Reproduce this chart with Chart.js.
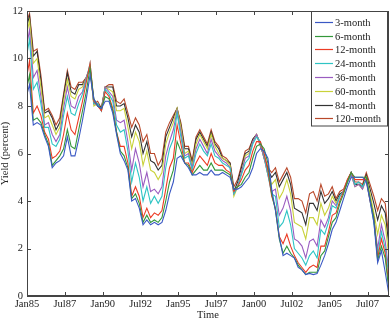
<!DOCTYPE html>
<html><head><meta charset="utf-8">
<script src="https://cdn.jsdelivr.net/npm/chart.js@4/dist/chart.umd.min.js"></script>
<style>html,body{margin:0;padding:0;background:#fff;}#wrap{width:392px;height:324px;}</style>
</head><body><div id="wrap"><canvas id="c" width="392" height="324"></canvas></div>
<script>
// Month offsets from Jan 1985
const months = [0, 2, 5, 8, 11, 14, 17, 20, 23, 26,
  29, 32, 35, 38, 41, 44, 47, 50, 53, 56,
  59, 62, 65, 68, 71, 74, 77, 80, 83, 86,
  89, 92, 95, 98, 101, 104, 107, 110, 113, 116,
  119, 122, 125, 128, 131, 134, 137, 140, 143, 146,
  149, 152, 155, 158, 161, 164, 167, 170, 173, 176,
  179, 182, 185, 188, 191, 194, 197, 200, 203, 206,
  209, 212, 215, 218, 221, 224, 227, 230, 233, 236,
  239, 242, 245, 248, 251, 254, 257, 260, 263, 266,
  269, 272, 275, 278, 281, 284, 287];

const tickMonths = [0, 30, 60, 90, 120, 150, 180, 210, 240, 270];
const tickLabels = ['Jan85','Jul87','Jan90','Jul92','Jan95','Jul97','Jan00','Jul02','Jan05','Jul07'];
const yTicks = [0, 2, 4, 6, 8, 10, 12];

const seriesNames = ['3-month','6-month','12-month','24-month','36-month','60-month','84-month','120-month'];

const y3 = [8.5, 8.9, 7.2, 7.3, 7.2, 6.7, 6.3, 5.4, 5.6, 5.7,
  5.9, 6.7, 5.9, 5.9, 6.6, 7.4, 8.3, 9.3, 8.3, 8.0,
  7.9, 8.2, 8.2, 7.7, 6.8, 6.0, 5.7, 5.3, 4.0, 4.1,
  3.7, 3.0, 3.2, 3.0, 3.1, 3.0, 3.1, 3.6, 4.3, 4.8,
  5.8, 5.9, 5.6, 5.4, 5.1, 5.1, 5.2, 5.1, 5.1, 5.3,
  5.1, 5.1, 5.2, 5.1, 5.0, 4.5, 4.5, 4.6, 4.8, 5.0,
  5.4, 6.0, 6.2, 6.1, 5.8, 4.5, 3.6, 2.5, 1.7, 1.8,
  1.7, 1.6, 1.2, 1.1, 0.9, 0.95, 0.9, 0.95, 1.3, 1.7,
  2.2, 2.8, 3.1, 3.6, 4.1, 4.6, 5.0, 5.0, 5.0, 5.0,
  4.8, 4.0, 3.1, 1.4, 1.9, 1.0, 0.05];
const y6 = [8.8, 9.3, 7.4, 7.5, 7.3, 6.8, 6.4, 5.5, 5.7, 5.9,
  6.2, 7.0, 6.3, 6.2, 7.0, 7.8, 8.6, 9.6, 8.3, 8.0,
  7.9, 8.4, 8.3, 7.8, 6.9, 6.1, 5.9, 5.4, 4.1, 4.3,
  3.9, 3.1, 3.4, 3.1, 3.2, 3.1, 3.3, 4.0, 4.8, 5.3,
  6.5, 6.1, 5.6, 5.5, 5.1, 5.3, 5.5, 5.3, 5.3, 5.6,
  5.3, 5.3, 5.3, 5.2, 5.1, 4.5, 4.6, 4.7, 5.0, 5.2,
  5.8, 6.3, 6.4, 6.2, 5.6, 4.3, 3.6, 2.4, 1.8, 2.1,
  1.8, 1.6, 1.3, 1.1, 0.9, 1.0, 1.0, 1.0, 1.7, 1.9,
  2.5, 3.1, 3.3, 3.9, 4.3, 4.8, 5.2, 5.0, 5.0, 5.0,
  5.0, 4.1, 3.3, 1.5, 2.1, 1.6, 0.2];
const y12 = [9.3, 9.9, 7.7, 8.0, 7.6, 6.9, 6.6, 5.8, 5.9, 6.1,
  6.8, 7.7, 7.0, 6.8, 7.5, 8.2, 9.0, 9.8, 8.2, 8.0,
  7.8, 8.6, 8.4, 7.9, 6.9, 6.3, 6.3, 5.6, 4.2, 4.6,
  4.2, 3.3, 3.7, 3.3, 3.5, 3.4, 3.6, 4.5, 5.4, 5.8,
  7.2, 6.4, 5.6, 5.6, 5.2, 5.6, 5.9, 5.7, 5.5, 6.0,
  5.6, 5.5, 5.5, 5.3, 5.2, 4.4, 4.6, 4.9, 5.3, 5.5,
  6.1, 6.5, 6.5, 6.0, 5.3, 4.2, 3.7, 2.5, 2.2, 2.6,
  2.1, 1.7, 1.4, 1.2, 1.0, 1.2, 1.3, 1.2, 2.1, 2.1,
  2.7, 3.4, 3.5, 4.0, 4.4, 4.9, 5.2, 4.9, 4.9, 4.9,
  4.9, 4.0, 3.3, 1.6, 2.4, 1.8, 0.4];
const y24 = [10.2, 10.8, 8.7, 9.0, 8.1, 7.1, 7.1, 6.4, 6.3, 6.6,
  7.6, 8.4, 7.7, 7.6, 8.1, 8.5, 9.1, 9.8, 8.1, 8.1,
  7.8, 8.7, 8.5, 8.2, 7.2, 6.9, 7.0, 6.1, 4.8, 5.6,
  5.0, 4.0, 4.6, 3.9, 4.2, 3.9, 4.2, 5.4, 6.2, 6.6,
  7.7, 6.7, 5.8, 5.9, 5.3, 6.0, 6.4, 6.1, 5.9, 6.4,
  5.9, 5.8, 5.6, 5.5, 5.4, 4.3, 4.6, 5.1, 5.6, 5.8,
  6.4, 6.7, 6.5, 5.9, 5.1, 4.3, 4.2, 2.9, 3.1, 3.6,
  3.0, 2.0, 1.8, 1.6, 1.3, 1.7, 1.9, 1.6, 2.8, 2.6,
  3.1, 3.8, 3.7, 4.2, 4.4, 4.8, 5.2, 4.7, 4.8, 4.6,
  4.9, 4.0, 3.1, 1.7, 2.7, 2.0, 0.8];
const y36 = [10.6, 11.2, 9.2, 9.5, 8.4, 7.2, 7.3, 6.8, 6.5, 6.8,
  7.9, 8.8, 8.0, 7.9, 8.4, 8.6, 9.2, 9.7, 8.1, 8.1,
  7.8, 8.8, 8.6, 8.4, 7.4, 7.3, 7.4, 6.5, 5.3, 6.2,
  5.6, 4.6, 5.2, 4.4, 4.5, 4.3, 4.6, 5.9, 6.5, 7.0,
  7.8, 6.9, 5.9, 6.0, 5.4, 6.2, 6.6, 6.3, 6.0, 6.6,
  6.1, 5.9, 5.7, 5.6, 5.4, 4.3, 4.6, 5.2, 5.8, 5.9,
  6.5, 6.8, 6.4, 5.8, 5.1, 4.4, 4.5, 3.4, 3.7, 4.2,
  3.6, 2.4, 2.3, 2.1, 1.6, 2.3, 2.4, 2.1, 3.2, 2.9,
  3.3, 4.0, 3.8, 4.2, 4.4, 4.8, 5.1, 4.6, 4.7, 4.5,
  4.9, 4.1, 3.2, 2.0, 3.0, 2.3, 1.0];
const y60 = [11.1, 11.6, 9.8, 10.0, 8.8, 7.5, 7.6, 7.2, 6.8, 7.1,
  8.2, 9.1, 8.4, 8.3, 8.7, 8.8, 9.2, 9.6, 8.0, 8.1,
  7.8, 8.8, 8.7, 8.6, 7.8, 7.8, 7.9, 7.1, 6.2, 6.9,
  6.5, 5.5, 6.1, 5.3, 5.2, 4.9, 5.2, 6.4, 6.9, 7.3,
  7.9, 7.1, 6.0, 6.1, 5.5, 6.4, 6.8, 6.5, 6.2, 6.8,
  6.3, 6.0, 5.8, 5.7, 5.5, 4.2, 4.6, 5.2, 5.9, 6.0,
  6.5, 6.8, 6.4, 5.8, 5.1, 4.7, 4.9, 4.1, 4.4, 4.9,
  4.3, 3.1, 3.0, 2.9, 2.4, 3.3, 3.3, 3.0, 3.9, 3.4,
  3.7, 4.2, 3.9, 4.2, 4.4, 4.8, 5.1, 4.6, 4.7, 4.5,
  5.0, 4.3, 3.5, 2.6, 3.4, 3.0, 1.6];
const y84 = [11.4, 11.8, 10.1, 10.3, 9.1, 7.7, 7.8, 7.5, 7.0, 7.3,
  8.4, 9.4, 8.6, 8.5, 8.9, 8.9, 9.2, 9.6, 8.1, 8.1,
  7.9, 8.8, 8.8, 8.8, 8.0, 8.0, 8.1, 7.5, 6.7, 7.2,
  6.9, 6.0, 6.5, 5.7, 5.6, 5.3, 5.5, 6.7, 7.1, 7.5,
  7.9, 7.2, 6.2, 6.2, 5.6, 6.6, 6.9, 6.6, 6.3, 6.9,
  6.4, 6.2, 5.8, 5.7, 5.6, 4.4, 4.8, 5.4, 6.0, 6.1,
  6.6, 6.8, 6.4, 5.8, 5.3, 5.0, 5.2, 4.6, 4.9, 5.2,
  4.7, 3.7, 3.6, 3.5, 3.0, 3.9, 3.9, 3.6, 4.4, 3.9,
  4.1, 4.4, 4.0, 4.3, 4.4, 4.8, 5.2, 4.7, 4.7, 4.6,
  5.1, 4.5, 3.9, 3.2, 3.8, 3.5, 2.1];
const y120 = [11.6, 11.9, 10.3, 10.4, 9.3, 7.8, 7.9, 7.6, 7.2, 7.5,
  8.5, 9.5, 8.8, 8.7, 9.0, 9.0, 9.2, 9.6, 8.1, 8.2,
  7.9, 8.8, 8.9, 8.9, 8.2, 8.1, 8.3, 7.7, 7.1, 7.5,
  7.2, 6.5, 6.8, 6.0, 6.0, 5.5, 5.8, 6.9, 7.3, 7.6,
  7.9, 7.3, 6.3, 6.3, 5.7, 6.7, 7.0, 6.7, 6.4, 7.0,
  6.5, 6.3, 5.9, 5.8, 5.6, 4.6, 4.9, 5.5, 6.1, 6.2,
  6.6, 6.8, 6.3, 5.9, 5.4, 5.2, 5.4, 4.8, 5.1, 5.4,
  5.0, 4.1, 4.1, 4.0, 3.5, 4.3, 4.4, 4.0, 4.7, 4.2,
  4.3, 4.6, 4.1, 4.4, 4.5, 4.9, 5.2, 4.8, 4.8, 4.7,
  5.2, 4.7, 4.2, 3.6, 4.1, 3.9, 2.4];

const seriesValues = [y3, y6, y12, y24, y36, y60, y84, y120];
const colors = ['#3a58c4', '#33973a', '#ec3b24', '#2ec4c4', '#9a5cc0', '#c9d23a', '#333333', '#b9482a'];

const FONT = 'Liberation Serif, Times New Roman, serif';

const frame = {
  id: 'frame',
  afterDraw(chart) {
    const c = chart.ctx, a = chart.chartArea;
    const xs = chart.scales.x, ys = chart.scales.y;
    c.save();
    c.strokeStyle = '#444';
    c.lineWidth = 1;
    c.strokeRect(Math.round(a.left) + 0.5, Math.round(a.top) + 0.5, Math.round(a.right - a.left) - 1, Math.round(a.bottom - a.top) - 1);
    c.beginPath();
    tickMonths.forEach(m => {
      const x = Math.round(xs.getPixelForValue(m)) + 0.5;
      c.moveTo(x, a.bottom); c.lineTo(x, a.bottom - 4);
      c.moveTo(x, a.top); c.lineTo(x, a.top + 4);
    });
    yTicks.forEach(v => {
      const y = Math.round(ys.getPixelForValue(v)) + 0.5;
      c.moveTo(a.left, y); c.lineTo(a.left + 4, y);
      c.moveTo(a.right, y); c.lineTo(a.right - 4, y);
    });
    c.stroke();
    // legend
    const L = 311.5, T = 11.5, W = 76, H = 114.5;
    c.fillStyle = '#fff';
    c.fillRect(L, T, W, H);
    c.strokeStyle = '#444';
    c.strokeRect(L, T, W, H);
    c.font = '10.5px ' + FONT;
    c.textBaseline = 'middle';
    c.textAlign = 'left';
    chart.data.datasets.forEach((ds, i) => {
      const y = Math.round(T + 10.2 + i * 13.8) + 0.5;
      c.strokeStyle = ds.borderColor;
      c.lineWidth = 1.2;
      c.beginPath(); c.moveTo(315, y); c.lineTo(333, y); c.stroke();
      c.fillStyle = '#222';
      c.fillText(ds.label, 335, y + 0.5);
    });
    c.restore();
  }
};

new Chart(document.getElementById('c'), {
  type: 'line',
  data: {
    datasets: seriesNames.map((n, i) => ({
      label: n,
      data: months.map((m, j) => ({ x: m, y: seriesValues[i][j] })),
      borderColor: colors[i],
      backgroundColor: colors[i],
      borderWidth: 1.1,
      pointRadius: 0,
      tension: 0,
      fill: false
    }))
  },
  options: {
    responsive: false,
    animation: false,
    devicePixelRatio: 1,
    layout: { padding: { left: 0, right: 3, top: 11, bottom: 0 } },
    plugins: { legend: { display: false }, tooltip: { enabled: false } },
    scales: {
      x: {
        type: 'linear', min: 0, max: 287,
        afterBuildTicks: s => { s.ticks = tickMonths.map(v => ({ value: v })); },
        afterFit: s => { s.height = 28; },
        ticks: {
          autoSkip: false, maxRotation: 0, padding: 2, color: '#222',
          font: { family: FONT, size: 10.5 },
          callback: v => tickLabels[tickMonths.indexOf(v)]
        },
        grid: { display: false, drawTicks: false },
        border: { display: true, color: '#444' },
        title: { display: true, text: 'Time', color: '#222', font: { family: FONT, size: 10.5 }, padding: { top: 0, bottom: 2 } }
      },
      y: {
        min: 0, max: 12,
        afterBuildTicks: s => { s.ticks = yTicks.map(v => ({ value: v })); },
        afterFit: s => { s.width = 27; },
        ticks: { padding: 4, color: '#222', font: { family: FONT, size: 10.5 } },
        grid: { display: false, drawTicks: false },
        border: { display: true, color: '#444' },
        title: { display: true, text: 'Yield (percent)', color: '#222', font: { family: FONT, size: 10.5 }, padding: { top: -1, bottom: 0 } }
      }
    }
  },
  plugins: [frame]
});
</script>
</body></html>
